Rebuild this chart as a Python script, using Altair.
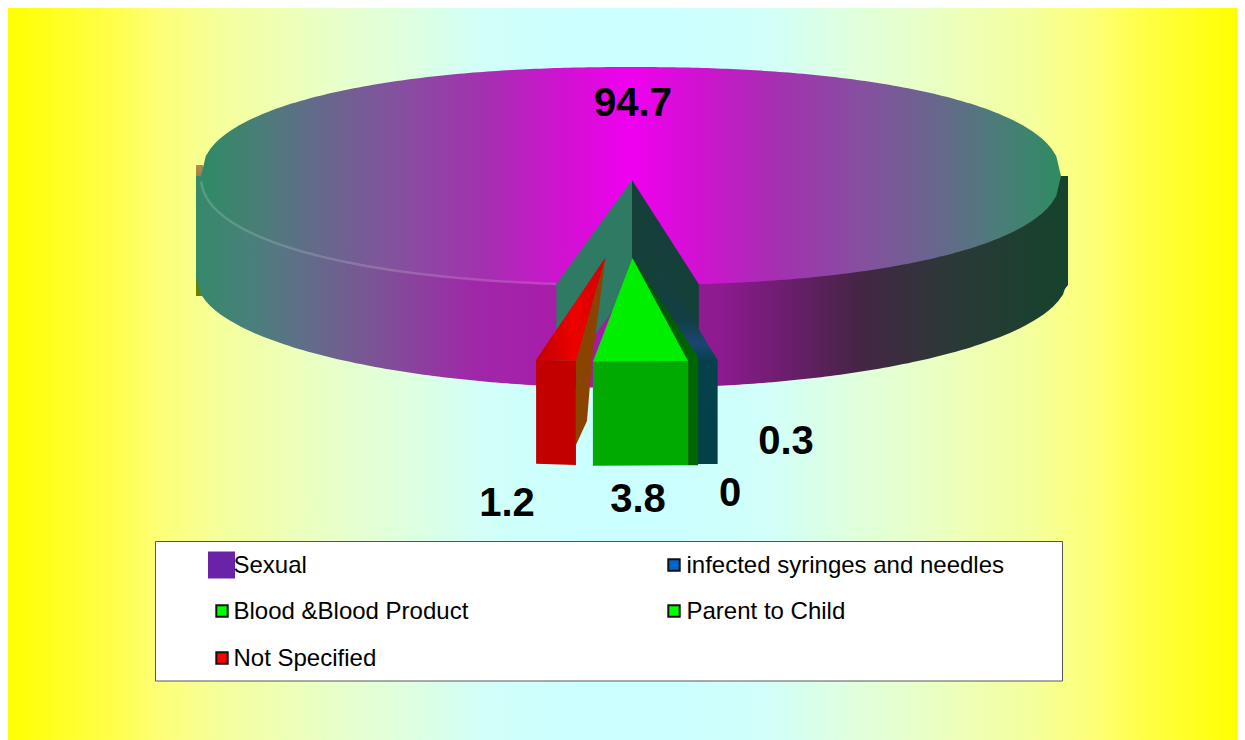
import math
import altair as alt
import pandas as pd

# ---------- data ----------
categories = ["Sexual", "infected syringes and needles", "Blood &Blood Product", "Parent to Child", "Not Specified"]
values = [94.7, 0.3, 0, 3.8, 1.2]
label_texts = ["94.7", "0.3", "0", "3.8", "1.2"]

# ---------- layout (page pixels) ----------
W, H = 1237, 740
X0, Y0 = 8, 8
label_x = [633, 786, 730, 638, 507]
label_y = [104, 442, 494, 500, 504]
START = 190.0
TOP = dict(cx=631, cy=176, rx=430, ry=109, p=2.2)
BOT = dict(cx=632, cy=278, rx=436, ry=110, p=2.0)
DEPTH = 104
SL = dict(cx=629, cy=180, ex=0.4 * 430, ey=78, r=0.93)

xs = alt.X("x:Q", scale=alt.Scale(domain=[X0, W], nice=False, zero=False), axis=None)
ys = alt.Y("y:Q", scale=alt.Scale(domain=[H, Y0], nice=False, zero=False), axis=None)


def grad(stops, vertical=False):
    st = [{"offset": o, "color": c} for o, c in stops]
    return {"gradient": "linear", "x1": 0, "y1": 0, "x2": 0 if vertical else 1, "y2": 1 if vertical else 0, "stops": st}


def span(points):
    """turn an x-monotone polygon into x / y / y2 rows for an area mark"""
    rows = []
    for x in sorted({round(p[0], 2) for p in points}):
        hits = []
        for (a, b), (c, d) in zip(points, points[1:] + points[:1]):
            lo, hi = min(a, c), max(a, c)
            if lo - 0.02 <= x <= hi + 0.02:
                if abs(c - a) < 0.02:
                    hits += [b, d]
                else:
                    t = min(1, max(0, (x - a) / (c - a)))
                    hits.append(b + (d - b) * t)
        rows.append({"x": x, "y": min(hits), "y2": max(hits)})
    return rows


def area(rows, fill, **kw):
    return alt.Chart(pd.DataFrame(rows)).mark_area(color=fill, **kw).encode(x=xs, y=ys, y2="y2:Q")


def poly(points, fill, **kw):
    return area(span(points), fill, **kw)


def half_height(e, u):
    return e["ry"] * max(0, 1 - abs(u) ** e["p"]) ** (1 / e["p"])


def rim_pt(e, deg):
    """point of the (front part of the) rim at a pie angle measured clockwise from the top"""
    u = math.sin(math.radians(deg))
    sign = 1 if math.cos(math.radians(deg)) < 0 else -1
    return (e["cx"] + e["rx"] * u, e["cy"] + sign * half_height(e, u))


def ellipse_rows(e, top=None):
    rows = []
    for i in range(0, 181):
        u = -1 + 2 * i / 180
        d = half_height(e, u)
        rows.append({"x": e["cx"] + e["rx"] * u, "y": e["cy"] - d if top is None else top, "y2": e["cy"] + d})
    return rows


# ---------- angles from the values ----------
angles = []
a = START
for v in values:
    angles.append((a, a + v * 3.6))
    a += v * 3.6
sex_end = angles[0][1] % 360
sex_start = START


def slice_geo(i):
    a0, a1 = angles[i]
    a0 %= 360
    a1 %= 360
    mid = math.radians((a0 + a1) / 2)
    ax = SL["cx"] + SL["ex"] * math.sin(mid)
    ay = SL["cy"] - SL["ey"] * math.cos(mid)
    rx, ry = TOP["rx"] * SL["r"], 112 * SL["r"]
    p0 = (ax + rx * math.sin(math.radians(a0)), ay - ry * math.cos(math.radians(a0)))
    p1 = (ax + rx * math.sin(math.radians(a1)), ay - ry * math.cos(math.radians(a1)))
    return (ax, ay), p0, p1


layers = []

# page gradient (mirrored about the middle of the reference panel)
half = [(8, "#ffff00"), (120, "#ffff50"), (150, "#ffff70"), (220, "#f5ff9c"), (270, "#f0ffb0"), (340, "#e8ffcc"),
        (400, "#e0ffdd"), (480, "#d2fff8"), (570, "#ccffff")]
MID = 626.5
px = [(x, c) for x, c in half] + [(2 * MID - x, c) for x, c in reversed(half)]
bg = grad([(min(1, (x - X0) / (W - X0)), c) for x, c in px if x <= W + 60])
layers.append(area([{"x": X0, "y": Y0, "y2": H}, {"x": W, "y": Y0, "y2": H}], bg))

# outer rim strips and pie side
layers.append(poly([(196, 165), (203, 165), (203, 296), (196, 296)],
                   grad([(0, "#b08a5a"), (0.2, "#7d7a30"), (0.32, "#5c7d00"), (1, "#668000")], vertical=True)))
layers.append(poly([(1056, 178), (1068, 178), (1068, 285), (1056, 300)], "#3a2150"))
side = grad([(0, "#35896a"), (0.06, "#48807a"), (0.12, "#5f6f88"), (0.2, "#7a5595"), (0.32, "#a027a8"), (0.42, "#a81cab"),
             (0.6, "#8e1a90"), (0.68, "#6a1e6c"), (0.76, "#452545"), (0.86, "#2c3838"), (1, "#15432c")])
layers.append(area(ellipse_rows(BOT, top=TOP["cy"]), side))

# top face
top = grad([(0, "#2e8b64"), (0.07, "#4a7d78"), (0.14, "#66688c"), (0.23, "#85509f"), (0.33, "#a430b0"), (0.42, "#d012d0"), (0.5, "#f000f0"),
            (0.58, "#d012d0"), (0.67, "#a430b0"), (0.77, "#85509f"), (0.86, "#66688c"), (0.93, "#4a7d78"), (1, "#2e8b64")])
layers.append(area(ellipse_rows(TOP), top))

# highlight along the front edge of the top face
hl = [dict(x=rim_pt(TOP, d)[0], y=rim_pt(TOP, d)[1]) for d in range(268, int(sex_start) - 1, -2)]
layers.append(alt.Chart(pd.DataFrame(hl)).mark_line(color="#ffffff", opacity=0.16, strokeWidth=2.5).encode(x=xs, y=ys))

# walls of the cut-out wedge
apex = (632, TOP["cy"] + 4)
L = rim_pt(TOP, sex_start)
R = rim_pt(TOP, sex_end)
layers.append(poly([apex, L, (L[0], L[1] + DEPTH), (apex[0], apex[1] + DEPTH)], "#2f7a62"))
layers.append(poly([apex, R, (R[0], R[1] + DEPTH), (apex[0], apex[1] + DEPTH)], "#15403a"))

# Not Specified
a_, p0, p1 = slice_geo(4)   # p0 = right rim, p1 = left rim
rr = (p0[0] + 10, p0[1])
layers.append(poly([a_, (rr[0] + 16, rr[1]), (rr[0] + 11, rr[1] + 60), (rr[0], rr[1] + 84), rr], "#8a4400"))
layers.append(poly([(p1[0], p1[1]), rr, (rr[0], rr[1] + DEPTH), (p1[0], p1[1] + DEPTH)], "#c20000"))
layers.append(poly([a_, p1, rr], grad([(0, "#c00000"), (0.55, "#ee0000"), (1, "#d00000")])))

# infected syringes and needles
a_, p0, p1 = slice_geo(1)   # p0 = right rim
layers.append(poly([a_, p0, (p0[0], p0[1] + DEPTH), (a_[0] + 40, p0[1] + DEPTH)],
                   grad([(0, "#15403a"), (0.3, "#123f44"), (0.42, "#1c4572"), (0.5, "#06404c"), (1, "#03404a")], vertical=True)))

# Parent to Child
a_, p0, p1 = slice_geo(3)   # p0 = right rim, p1 = left rim
rw = (p0[0] + 10, p0[1] - 4)
layers.append(poly([a_, rw, (rw[0], rw[1] + DEPTH + 4), (p0[0], p0[1] + DEPTH)], grad([(0, "#005000"), (1, "#006800")])))
layers.append(poly([p1, p0, (p0[0], p0[1] + DEPTH), (p1[0], p1[1] + DEPTH)], "#00aa00"))
layers.append(poly([a_, p1, p0], "#00ee00"))

# value labels
lab = pd.DataFrame({"x": label_x, "y": label_y, "t": label_texts})
layers.append(alt.Chart(lab).mark_text(font="Liberation Sans", fontSize=40, fontWeight="bold", color="#000000",
                                       align="center", baseline="middle").encode(x=xs, y=ys, text="t:N"))

# legend box
layers.append(poly([(155.5, 541.5), (1062.5, 541.5), (1062.5, 681), (155.5, 681)], "#ffffff", stroke="#555555", strokeWidth=1))
leg_swatch_x = [221.5, 674, 222, 674, 222]
leg_text_x = [233.5, 686.5, 233.5, 686.5, 233.5]
leg_y = [565, 565, 611, 611, 658]
leg_fill = ["#6a22a8", "#0066cc", "#00ff00", "#00ff00", "#ff0000"]
leg_size = [729, 130, 130, 130, 130]
leg_stroke = [0, 2, 2, 2, 2]
leg = pd.DataFrame({"x": leg_swatch_x, "tx": leg_text_x, "y": leg_y, "ty": [v + 1 for v in leg_y], "name": categories,
                    "fill": leg_fill, "size": leg_size, "sw": leg_stroke})
layers.append(alt.Chart(leg).mark_point(shape="square", filled=True, stroke="#111111").encode(
    x=xs, y=ys, fill=alt.Fill("fill:N", scale=None),
    size=alt.Size("size:Q", scale=None),
    strokeWidth=alt.StrokeWidth("sw:Q", scale=None), opacity=alt.value(1)))
layers.append(alt.Chart(leg).mark_text(font="Liberation Sans", fontSize=24, color="#000000", align="left", baseline="middle").encode(
    x=alt.X("tx:Q", scale=alt.Scale(domain=[X0, W], nice=False, zero=False), axis=None),
    y=alt.Y("ty:Q", scale=alt.Scale(domain=[H, Y0], nice=False, zero=False), axis=None), text="name:N"))

chart = alt.layer(*layers).properties(width=W - X0, height=H - Y0, padding=0,
                                      autosize=alt.AutoSizeParams(type="none")).configure_view(stroke=None)
chart.save("out.html", embed_options={"renderer": "svg", "actions": False})
